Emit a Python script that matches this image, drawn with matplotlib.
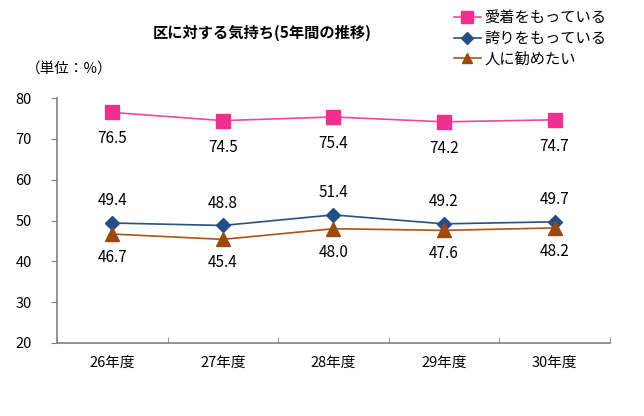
import matplotlib
matplotlib.use("Agg")
import matplotlib.pyplot as plt

plt.rcParams['font.family'] = ['Noto Sans CJK JP', 'DejaVu Sans']

years = ['26年度', '27年度', '28年度', '29年度', '30年度']
aichaku = [76.5, 74.5, 75.4, 74.2, 74.7]
hokori = [49.4, 48.8, 51.4, 49.2, 49.7]
susume = [46.7, 45.4, 48.0, 47.6, 48.2]

fig = plt.figure(figsize=(6.44, 4.16), dpi=100)
ax = fig.add_axes([0.0885, 0.1755, 0.8585, 0.5885])

x = range(len(years))
ax.plot(x, aichaku, color='#F0489A', marker='s', markersize=10, lw=1.2,
        markerfacecolor='#F0308F', markeredgecolor='#F0308F', label='愛着をもっている')
ax.plot(x, hokori, color='#2A4F80', marker='D', markersize=7.5, lw=1.2,
        markerfacecolor='#254E86', markeredgecolor='#254E86', label='誇りをもっている')
ax.plot(x, susume, color='#A5561A', marker='^', markersize=9.5, lw=1.2,
        markerfacecolor='#9C4A0C', markeredgecolor='#9C4A0C', label='人に勧めたい')

for i in x:
    ax.annotate(f'{aichaku[i]:.1f}', (i, aichaku[i]), xytext=(0, -19), textcoords='offset points',
                ha='center', va='center', fontsize=11)
    ax.annotate(f'{hokori[i]:.1f}', (i, hokori[i]), xytext=(0, 16), textcoords='offset points',
                ha='center', va='center', fontsize=11)
    ax.annotate(f'{susume[i]:.1f}', (i, susume[i]), xytext=(0, -17), textcoords='offset points',
                ha='center', va='center', fontsize=11)

ax.set_xlim(-0.5, len(years) - 0.5)
ax.set_ylim(20, 80)
ax.set_yticks(range(20, 81, 10))
ax.set_xticks(list(x))
ax.set_xticklabels(years, fontsize=10.5)
ax.set_xticks([i - 0.5 for i in range(len(years) + 1)], minor=True)
ax.tick_params(axis='x', which='major', length=0, pad=9)
ax.tick_params(axis='x', which='minor', direction='in', length=4, color='#808080')
ax.tick_params(axis='y', direction='out', length=4, color='#808080', labelsize=10.5, pad=14)

for s in ['top', 'right']:
    ax.spines[s].set_visible(False)
for s in ['left', 'bottom']:
    ax.spines[s].set_color('#808080')
    ax.spines[s].set_linewidth(1.2)

fig.text(0.407, 0.921, '区に対する気持ち(5年間の推移)', ha='center', va='center',
         fontsize=11, fontweight='bold')
fig.text(0.040, 0.836, '（単位：%）', ha='left', va='center', fontsize=10.5)

fig.legend(loc='upper left', bbox_to_anchor=(0.690, 1.0), frameon=False, fontsize=11,
           handlelength=1.8, handletextpad=0.2, labelspacing=0.25, borderaxespad=0.2,
           markerscale=0.8)

fig.savefig('out.png', dpi=100)
